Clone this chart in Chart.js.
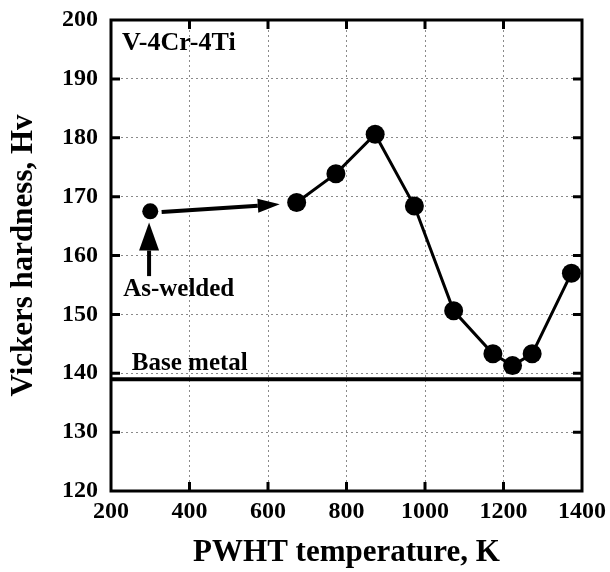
<!DOCTYPE html>
<html>
<head>
<meta charset="utf-8">
<script src="https://cdn.jsdelivr.net/npm/chart.js@4"></script>
<style>
  html, body { margin: 0; padding: 0; background: #fff; }
  #c { display: block; }
</style>
</head>
<body>
<canvas id="c" width="610" height="572"></canvas>
<script>
// ---- data ----
const pwhtTemps = [673, 773, 873, 973, 1073, 1173, 1223, 1273, 1373];
const pwhtHardness = [169.0, 173.9, 180.6, 168.4, 150.6, 143.3, 141.3, 143.3, 157.0];
const asWeldedTemp = [300];
const asWeldedHardness = [167.5];
const baseMetalHardness = 139;
const xTickRange = [200, 1400];
const yTickRange = [120, 200];

// annotation anchor positions (data units)
const alloyLabel = { text: 'V-4Cr-4Ti', x: 228, y: 194.9 };
const asWeldedLabel = { text: 'As-welded', x: 231, y: 153.1 };
const baseMetalLabel = { text: 'Base metal', x: 253, y: 140.55 };
const hArrow = { from: [329, 167.4], to: [630, 168.7] };
const vArrow = { from: [297, 156.5], to: [297, 165.6] };

const FONT = '"Liberation Serif", "Times New Roman", serif';

const pwhtPoints = pwhtTemps.map((t, i) => ({ x: t, y: pwhtHardness[i] }));
const awPoints = asWeldedTemp.map((t, i) => ({ x: t, y: asWeldedHardness[i] }));
const basePoints = xTickRange.map(t => ({ x: t, y: baseMetalHardness }));

function arrow(ctx, x1, y1, x2, y2, headLen, headW, lw) {
  const ang = Math.atan2(y2 - y1, x2 - x1);
  const bx = x2 - headLen * Math.cos(ang), by = y2 - headLen * Math.sin(ang);
  ctx.beginPath();
  ctx.lineWidth = lw;
  ctx.moveTo(x1, y1);
  ctx.lineTo(bx, by);
  ctx.stroke();
  ctx.beginPath();
  ctx.moveTo(x2, y2);
  ctx.lineTo(bx + (headW / 2) * Math.sin(ang), by - (headW / 2) * Math.cos(ang));
  ctx.lineTo(bx - (headW / 2) * Math.sin(ang), by + (headW / 2) * Math.cos(ang));
  ctx.closePath();
  ctx.fill();
}

const annotations = {
  id: 'annotations',
  afterDatasetsDraw(chart) {
    const { ctx, scales: { x, y } } = chart;
    ctx.save();
    ctx.fillStyle = '#000';
    ctx.strokeStyle = '#000';
    ctx.font = 'bold 26px ' + FONT;
    ctx.textAlign = 'left';
    ctx.textBaseline = 'alphabetic';
    ctx.fillText(alloyLabel.text, x.getPixelForValue(alloyLabel.x), y.getPixelForValue(alloyLabel.y));
    ctx.font = 'bold 25px ' + FONT;
    ctx.fillText(asWeldedLabel.text, x.getPixelForValue(asWeldedLabel.x), y.getPixelForValue(asWeldedLabel.y));
    ctx.fillText(baseMetalLabel.text, x.getPixelForValue(baseMetalLabel.x), y.getPixelForValue(baseMetalLabel.y));
    arrow(ctx, x.getPixelForValue(hArrow.from[0]), y.getPixelForValue(hArrow.from[1]),
               x.getPixelForValue(hArrow.to[0]), y.getPixelForValue(hArrow.to[1]), 22, 14, 4);
    arrow(ctx, x.getPixelForValue(vArrow.from[0]), y.getPixelForValue(vArrow.from[1]),
               x.getPixelForValue(vArrow.to[0]), y.getPixelForValue(vArrow.to[1]), 28, 20, 4);
    ctx.restore();
  }
};

const frame = {
  id: 'frame',
  afterDraw(chart) {
    const { ctx, chartArea: { left, right, top, bottom }, scales: { x, y } } = chart;
    ctx.save();
    ctx.strokeStyle = '#000';
    ctx.lineWidth = 3;
    ctx.strokeRect(left, top, right - left, bottom - top);
    const tl = 9;
    ctx.beginPath();
    x.ticks.forEach(t => {
      if (t.value <= xTickRange[0] || t.value >= xTickRange[1]) return;
      const px = x.getPixelForValue(t.value);
      ctx.moveTo(px, bottom); ctx.lineTo(px, bottom - tl);
      ctx.moveTo(px, top); ctx.lineTo(px, top + tl);
    });
    y.ticks.forEach(t => {
      if (t.value <= yTickRange[0] || t.value >= yTickRange[1]) return;
      const py = y.getPixelForValue(t.value);
      ctx.moveTo(left, py); ctx.lineTo(left + tl, py);
      ctx.moveTo(right, py); ctx.lineTo(right - tl, py);
    });
    ctx.stroke();
    ctx.restore();
  }
};

new Chart(document.getElementById('c'), {
  type: 'line',
  data: {
    datasets: [
      {
        label: 'Base metal',
        data: basePoints,
        borderColor: '#000',
        borderWidth: 4,
        pointRadius: 0,
        showLine: true
      },
      {
        label: 'PWHT',
        data: pwhtPoints,
        borderColor: '#000',
        backgroundColor: '#000',
        borderWidth: 3,
        pointRadius: 9.5,
        pointBackgroundColor: '#000',
        pointBorderWidth: 0,
        tension: 0
      },
      {
        label: 'As-welded',
        data: awPoints,
        borderColor: '#000',
        backgroundColor: '#000',
        showLine: false,
        pointRadius: 8,
        pointBackgroundColor: '#000',
        pointBorderWidth: 0
      }
    ]
  },
  options: {
    responsive: false,
    animation: false,
    events: [],
    layout: { padding: { left: 0, top: 20, right: 28, bottom: 0 } },
    plugins: { legend: { display: false }, tooltip: { enabled: false } },
    scales: {
      x: {
        type: 'linear',
        min: xTickRange[0], max: xTickRange[1],
        afterFit(s) { s.height = 81; s.paddingLeft = 0; s.paddingRight = 0; },
        ticks: { stepSize: 200, color: '#000', padding: 6, maxRotation: 0,
                 callback: v => String(v),
                 font: { family: FONT, size: 24, weight: 'bold' } },
        grid: { color: '#8a8a8a', lineWidth: 1, drawTicks: false },
        border: { display: false, dash: [2, 3] },
        title: { display: true, text: 'PWHT temperature, K', color: '#000',
                 padding: { top: 0, bottom: 0 },
                 font: { family: FONT, size: 31, weight: 'bold' } }
      },
      y: {
        type: 'linear',
        min: yTickRange[0], max: yTickRange[1],
        afterFit(s) { s.width = 111; s.paddingTop = 0; s.paddingBottom = 0; },
        ticks: { stepSize: 10, color: '#000', padding: 13,
                 callback: v => String(v),
                 font: { family: FONT, size: 24, weight: 'bold' } },
        grid: { color: '#8a8a8a', lineWidth: 1, drawTicks: false },
        border: { display: false, dash: [2, 3] },
        title: { display: true, text: 'Vickers hardness, Hv', color: '#000',
                 padding: { top: 5, bottom: 0 },
                 font: { family: FONT, size: 31, weight: 'bold' } }
      }
    }
  },
  plugins: [annotations, frame]
});
</script>
</body>
</html>
